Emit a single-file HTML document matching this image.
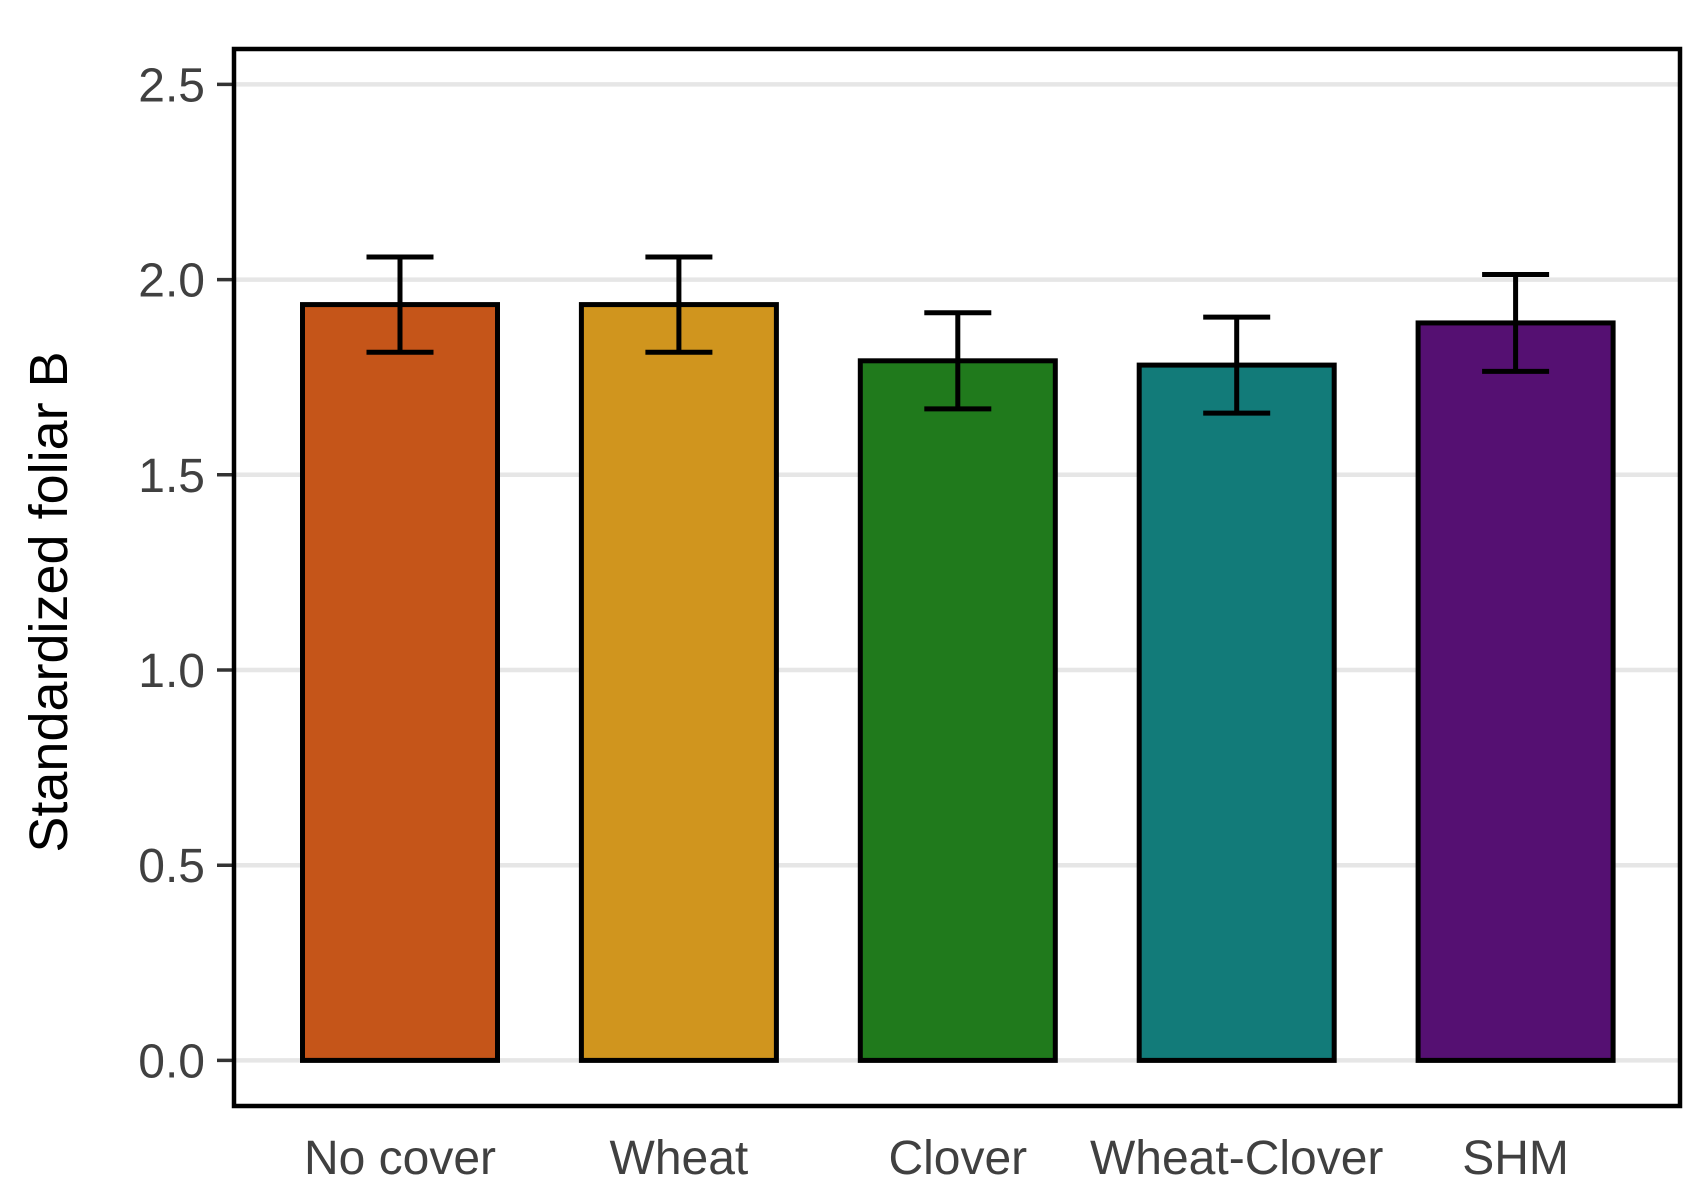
<!DOCTYPE html>
<html><head><meta charset="utf-8"><style>body{margin:0;background:#fff}svg{display:block}text{font-family:"Liberation Sans",Arial,sans-serif}</style></head>
<body>
<svg id="chart" width="1700" height="1200" xmlns="http://www.w3.org/2000/svg">
<rect width="1700" height="1200" fill="#fff"/>
<g id="grid"></g><g id="bars"></g><g id="axes"></g>
<text transform="translate(67,602) rotate(-90)" text-anchor="middle" font-size="54" fill="#000">Standardized foliar B</text>
</svg>
<script>
const categories=["No cover","Wheat","Clover","Wheat-Clover","SHM"];
const values=[1.936,1.936,1.792,1.781,1.889];
const errors=[0.122,0.122,0.123,0.123,0.124];
const colors=["#C55519","#D0951E","#207A1C","#127B79","#551072"];
const yTicks=[0,0.5,1,1.5,2,2.5];
const yTickLabels=["0.0","0.5","1.0","1.5","2.0","2.5"];
const NS="http://www.w3.org/2000/svg";
const L=234,R=1680,T=49,B=1106;
const y=v=>1060.4-v*390.4;
const x=i=>400+i*278.9;
const bw=195,cap=67;
function mk(tag,attrs,parent,text){const e=document.createElementNS(NS,tag);for(const k in attrs)e.setAttribute(k,attrs[k]);if(text!==undefined)e.textContent=text;parent.appendChild(e);return e;}
const grid=document.getElementById('grid'),bars=document.getElementById('bars'),axes=document.getElementById('axes');
yTicks.forEach((t,i)=>{
 const g=mk('line',{x1:L,x2:R,y1:y(t),y2:y(t),stroke:'#e6e6e6','stroke-width':4.5},grid);
 
 
 const tk=mk('line',{x1:217,x2:L,y1:y(t),y2:y(t),stroke:'#333','stroke-width':3.5},axes);
 
 
 const lb=mk('text',{x:205,y:y(t)+17,'text-anchor':'end','font-size':48,fill:'#404040'},axes,yTickLabels[i]);
 
 
});
categories.forEach((c,i)=>{
 const cx=x(i);
 const r=mk('rect',{x:cx-bw/2,y:y(values[i]),width:bw,height:y(0)-y(values[i]),fill:colors[i],stroke:'#000','stroke-width':5},bars);
 
 
 const hi=y(values[i]+errors[i]),lo=y(values[i]-errors[i]);
 const eb=mk('path',{d:`M${cx-cap/2},${hi}H${cx+cap/2}M${cx},${hi}V${lo}M${cx-cap/2},${lo}H${cx+cap/2}`,stroke:'#000','stroke-width':5,fill:'none'},bars);
 
 
 const lb=mk('text',{x:cx,y:1174,'text-anchor':'middle','font-size':48,fill:'#404040'},axes,c);
 
 
});
const fr=mk('rect',{x:L,y:T,width:R-L,height:B-T,fill:'none',stroke:'#000','stroke-width':4.5},axes);


</script>
</body></html>
